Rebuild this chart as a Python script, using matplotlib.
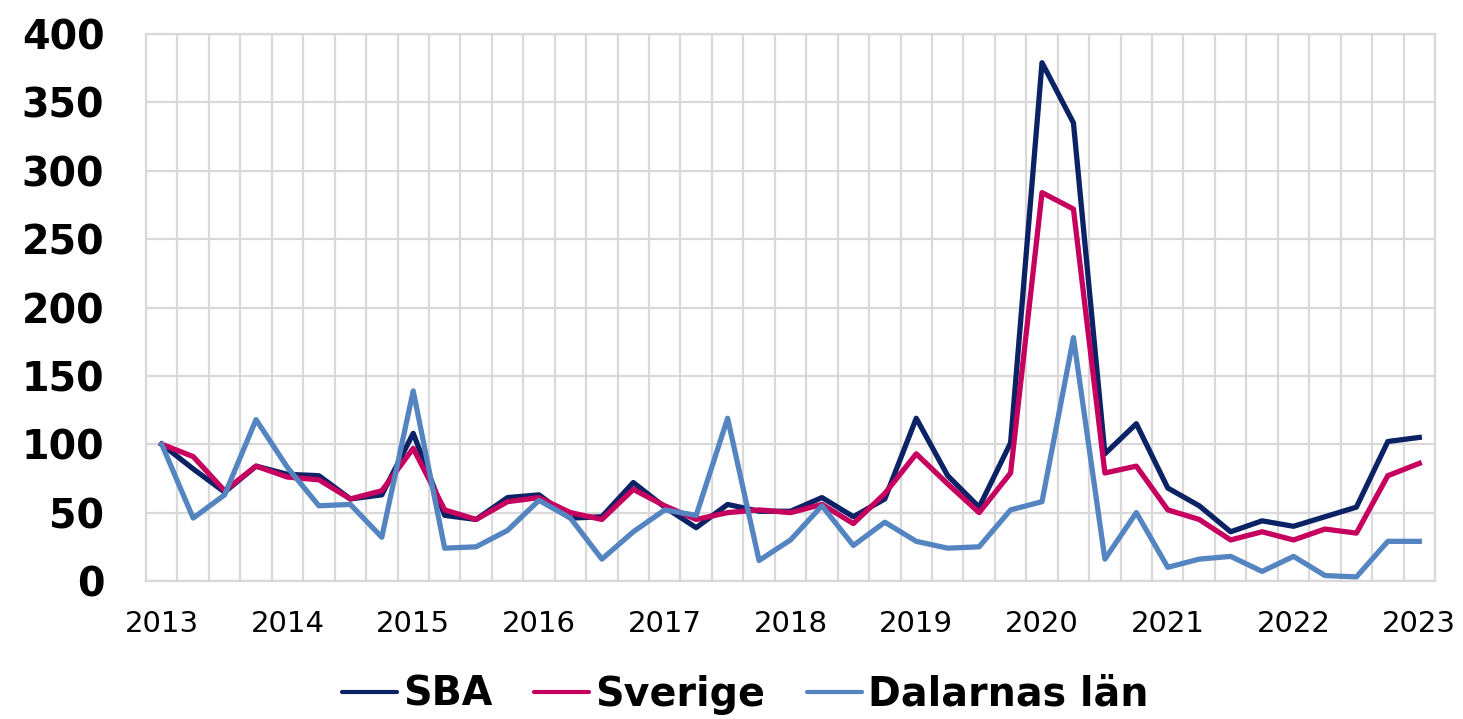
import matplotlib
matplotlib.use('Agg')
import matplotlib.pyplot as plt
import numpy as np

# quarterly index, 2013 Q1 = 100
years = ['2013', '2014', '2015', '2016', '2017', '2018', '2019', '2020', '2021', '2022', '2023']

sba = [100, 82, 65, 84, 78, 77, 60, 63, 108, 48, 45, 61, 63, 46,
       47, 72, 54, 39, 56, 51, 51, 61, 47, 60, 119, 77, 54, 101,
       379, 335, 93, 115, 68, 55, 36, 44, 40, 47, 54, 102, 105]
sverige = [100, 91, 66, 84, 76, 74, 60, 66, 97, 52, 45, 58, 61, 50,
           45, 67, 55, 45, 50, 52, 50, 56, 42, 64, 93, 71, 50, 79,
           284, 272, 79, 84, 52, 45, 30, 36, 30, 38, 35, 77, 86]
dalarna = [100, 46, 63, 118, 83, 55, 56, 32, 139, 24, 25, 37, 59, 46,
           16, 36, 52, 48, 119, 15, 30, 55, 26, 43, 29, 24, 25, 52,
           58, 178, 16, 50, 10, 16, 18, 7, 18, 4, 3, 29, 29]

series = [('SBA', sba, '#0B2265'),
          ('Sverige', sverige, '#C6005F'),
          ('Dalarnas län', dalarna, '#5485C1')]

fig = plt.figure(figsize=(14.63, 7.19), dpi=100)
ax = fig.add_axes([146 / 1463, 1 - 581 / 719, (1435 - 146) / 1463, (581 - 34) / 719])

x = np.arange(len(sba))
for name, vals, col in series:
    ax.plot(x, vals, color=col, lw=3.8, label=name)

ax.set_xlim(-0.5, len(sba) - 0.5)
ax.set_ylim(0, 400)
ax.set_yticks(np.arange(0, 401, 50))
ax.set_xticks(np.arange(0, len(sba), 4))
ax.set_xticklabels(years)
ax.set_xticks(np.arange(-0.5, len(sba), 1), minor=True)

ax.grid(True, axis='y', which='major', color='#D9D9D9', lw=1.6)
ax.grid(True, axis='x', which='minor', color='#D9D9D9', lw=1.6)
ax.set_axisbelow(True)
for s in ax.spines.values():
    s.set_color('#D9D9D9')
    s.set_linewidth(1.6)

ax.tick_params(axis='y', length=0, pad=30, labelsize=28.5)
ax.tick_params(axis='x', which='both', length=0, pad=21, labelsize=21)
for lab in ax.get_yticklabels():
    lab.set_fontweight('heavy')

leg = fig.legend(loc='center', bbox_to_anchor=(745 / 1463, 1 - 695 / 719), ncol=3,
                 frameon=False, handlelength=1.4, handletextpad=0.15, columnspacing=1.05,
                 prop={'size': 28.5, 'weight': 'heavy'})
for ln in leg.get_lines():
    ln.set_linewidth(3)
    ln.set_solid_capstyle('round')

fig.savefig('out.png', dpi=100)
